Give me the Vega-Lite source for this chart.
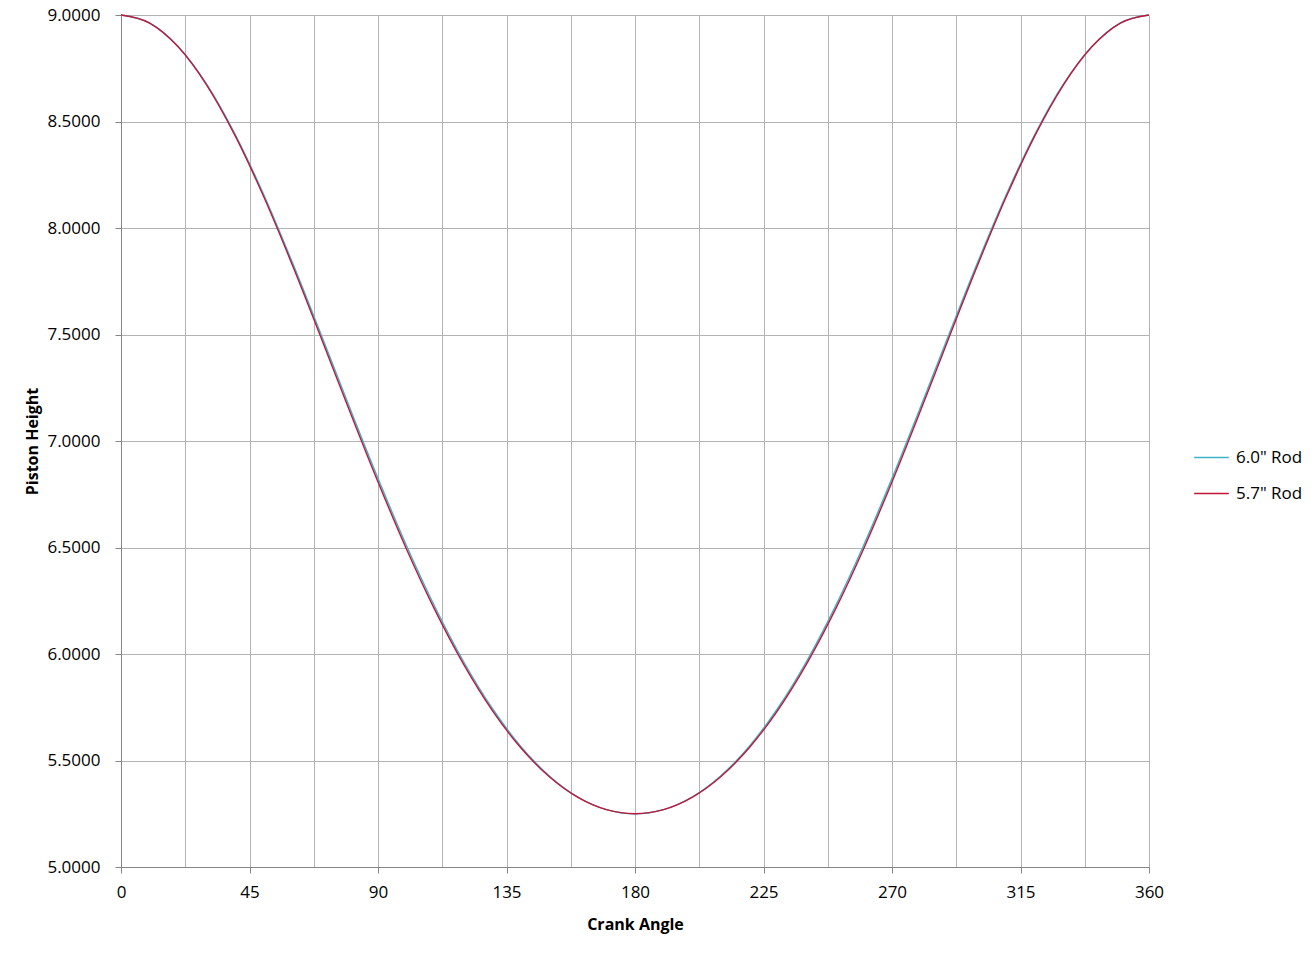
{
  "$schema": "https://vega.github.io/schema/vega-lite/v6.json",
  "autosize": "none",
  "width": 1028,
  "height": 852,
  "padding": {"left": 121, "top": 15, "right": 167, "bottom": 87},
  "background": "white",
  "config": {
    "view": {"stroke": null},
    "font": "Open Sans"
  },
  "data": {
    "values": [
      {"angle": 0, "r60": 9.0000, "r57": 9.0000},
      {"angle": 10, "r60": 8.9627, "r57": 8.9622},
      {"angle": 20, "r60": 8.8526, "r57": 8.8507},
      {"angle": 30, "r60": 8.6751, "r57": 8.6712},
      {"angle": 40, "r60": 8.4390, "r57": 8.4325},
      {"angle": 50, "r60": 8.1558, "r57": 8.1463},
      {"angle": 60, "r60": 7.8386, "r57": 7.8263},
      {"angle": 70, "r60": 7.5018, "r57": 7.4871},
      {"angle": 80, "r60": 7.1594, "r57": 7.1432},
      {"angle": 90, "r60": 6.8245, "r57": 6.8078},
      {"angle": 100, "r60": 6.5082, "r57": 6.4920},
      {"angle": 110, "r60": 6.2192, "r57": 6.2046},
      {"angle": 120, "r60": 5.9636, "r57": 5.9513},
      {"angle": 130, "r60": 5.7453, "r57": 5.7358},
      {"angle": 140, "r60": 5.5664, "r57": 5.5598},
      {"angle": 150, "r60": 5.4275, "r57": 5.4236},
      {"angle": 160, "r60": 5.3287, "r57": 5.3269},
      {"angle": 170, "r60": 5.2696, "r57": 5.2692},
      {"angle": 180, "r60": 5.2500, "r57": 5.2500},
      {"angle": 190, "r60": 5.2696, "r57": 5.2692},
      {"angle": 200, "r60": 5.3287, "r57": 5.3269},
      {"angle": 210, "r60": 5.4275, "r57": 5.4236},
      {"angle": 220, "r60": 5.5664, "r57": 5.5598},
      {"angle": 230, "r60": 5.7453, "r57": 5.7358},
      {"angle": 240, "r60": 5.9636, "r57": 5.9513},
      {"angle": 250, "r60": 6.2192, "r57": 6.2046},
      {"angle": 260, "r60": 6.5082, "r57": 6.4920},
      {"angle": 270, "r60": 6.8245, "r57": 6.8078},
      {"angle": 280, "r60": 7.1594, "r57": 7.1432},
      {"angle": 290, "r60": 7.5018, "r57": 7.4871},
      {"angle": 300, "r60": 7.8386, "r57": 7.8263},
      {"angle": 310, "r60": 8.1558, "r57": 8.1463},
      {"angle": 320, "r60": 8.4390, "r57": 8.4325},
      {"angle": 330, "r60": 8.6751, "r57": 8.6712},
      {"angle": 340, "r60": 8.8526, "r57": 8.8507},
      {"angle": 350, "r60": 8.9627, "r57": 8.9622},
      {"angle": 360, "r60": 9.0000, "r57": 9.0000}
    ]
  },
  "transform": [
    {"fold": ["r60", "r57"], "as": ["key", "height"]},
    {"lookup": "key", "from": {"data": {"values": [{"key": "r60", "rod": "6.0\" Rod", "ord": 0}, {"key": "r57", "rod": "5.7\" Rod", "ord": 1}]}, "key": "key", "fields": ["rod", "ord"]}}
  ],
  "mark": {"type": "line", "strokeWidth": 1.4, "interpolate": "monotone"},
  "encoding": {
    "x": {
      "field": "angle",
      "type": "quantitative",
      "scale": {"domain": [0, 360], "nice": false, "zero": false},
      "axis": {
        "values": [0, 22.5, 45, 67.5, 90, 112.5, 135, 157.5, 180, 202.5, 225, 247.5, 270, 292.5, 315, 337.5, 360],
        "labelExpr": "datum.value % 45 === 0 ? datum.label : ''",
        "tickOpacity": {"condition": {"test": "datum.value % 45 === 0", "value": 1}, "value": 0},
        "title": "Crank Angle",
        "titleFont": "Open Sans",
        "titleFontSize": 16,
        "titleFontWeight": "bold",
        "titleColor": "#000",
        "titlePadding": 16,
        "labelFont": "Open Sans",
        "labelFontSize": 17,
        "labelColor": "#000",
        "labelPadding": 11,
        "labelFlush": false,
        "labelOverlap": false,
        "tickSize": 6,
        "tickColor": "#868686",
        "domainColor": "#868686",
        "gridColor": "#b3b3b3",
        "grid": true
      }
    },
    "y": {
      "field": "height",
      "type": "quantitative",
      "scale": {"domain": [5, 9], "nice": false, "zero": false},
      "axis": {
        "values": [5, 5.5, 6, 6.5, 7, 7.5, 8, 8.5, 9],
        "format": ".4f",
        "title": "Piston Height",
        "titleFont": "Open Sans",
        "titleFontSize": 16,
        "titleFontWeight": "bold",
        "titleColor": "#000",
        "titlePadding": 6,
        "labelFont": "Open Sans",
        "labelFontSize": 17,
        "labelColor": "#000",
        "labelPadding": 15,
        "labelFlush": false,
        "labelOverlap": false,
        "tickSize": 6,
        "tickColor": "#868686",
        "domainColor": "#868686",
        "gridColor": "#b3b3b3",
        "grid": true
      }
    },
    "color": {
      "field": "rod",
      "type": "nominal",
      "sort": ["6.0\" Rod", "5.7\" Rod"],
      "scale": {"domain": ["6.0\" Rod", "5.7\" Rod"], "range": ["#3cb4c8", "#c0163a"]},
      "legend": {
        "title": null,
        "orient": "none",
        "legendX": 1072,
        "legendY": 424,
        "symbolType": "stroke",
        "symbolSize": 1200,
        "symbolStrokeWidth": 1.4,
        "labelFont": "Open Sans",
        "labelFontSize": 17,
        "labelColor": "#000",
        "rowPadding": 9,
        "labelOffset": 6
      }
    },
    "order": {"field": "ord", "type": "quantitative"}
  }
}
